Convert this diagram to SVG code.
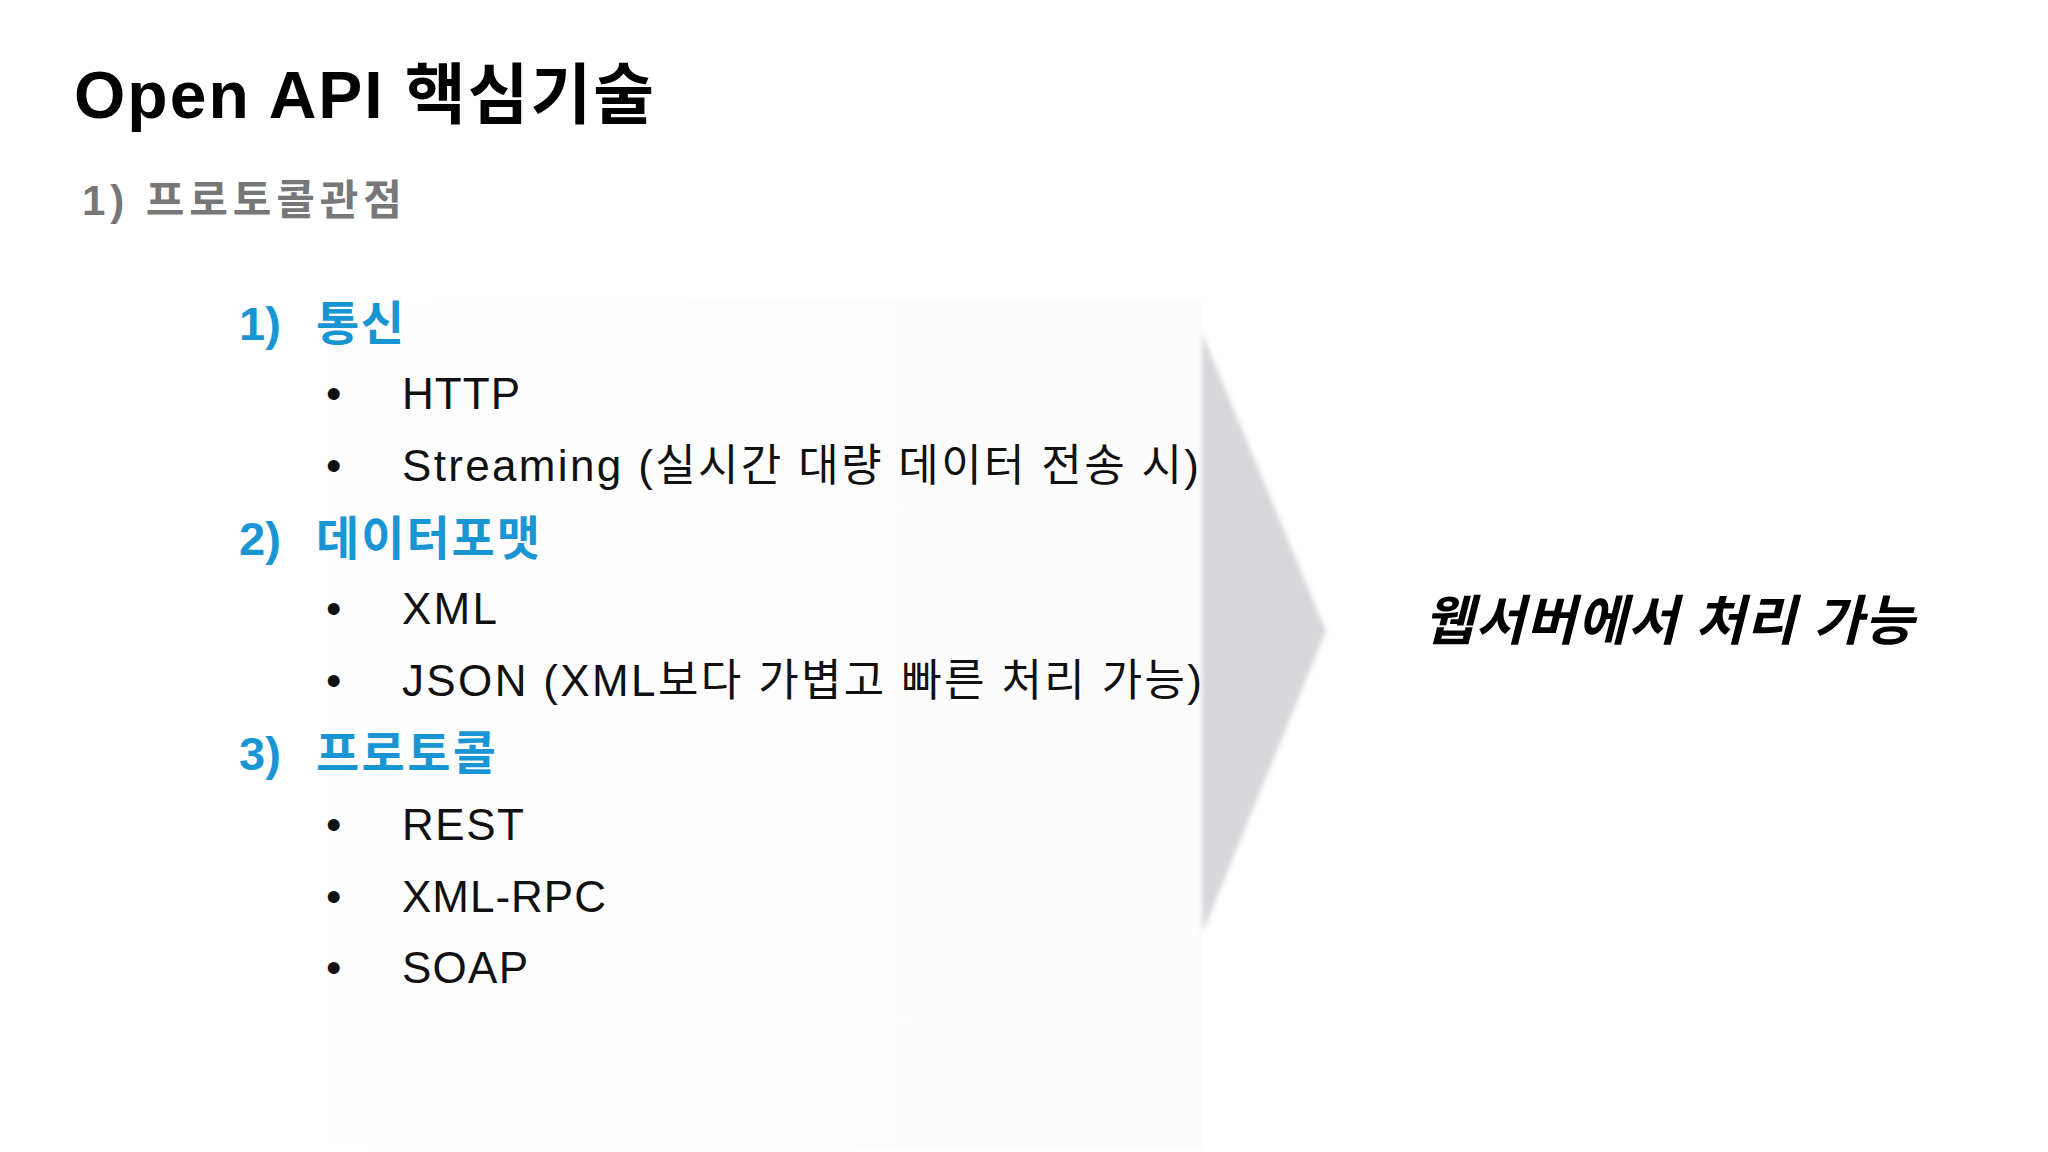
<svg xmlns="http://www.w3.org/2000/svg" width="2048" height="1152" viewBox="0 0 2048 1152">
<style>
text{font-family:"Liberation Sans","Noto Sans CJK KR",sans-serif}
.t{font-size:44px;fill:#111}
.h{font-size:47px;fill:#1a95d3;font-weight:bold}
</style>
<defs>
<filter id="b" x="-10%" y="-5%" width="120%" height="110%"><feGaussianBlur stdDeviation="2.5"/></filter>
<linearGradient id="g" x1="0" y1="0" x2="1" y2="0"><stop offset="0" stop-color="#fff"/><stop offset="1" stop-color="#f9f9fb"/></linearGradient>
</defs>
<rect width="2048" height="1152" fill="#fff"/>
<g id="title"><text x="74" y="118" font-size="66" font-weight="bold" fill="#000" textLength="580">Open API 핵심기술</text></g>
<g id="subtitle"><text x="82" y="215" font-size="42" font-weight="bold" fill="#777" textLength="320">1) 프로토콜관점</text></g>
<g id="arrow">
<polygon points="230,300 1202,300 1202,1150 300,1150" fill="url(#g)" opacity="0.5"/>
<polygon points="1202,333 1326,631 1202,934" fill="#d8d7dc" filter="url(#b)"/>
</g>
<g id="list">
<text class="h" x="239" y="340">1)</text><text class="h" x="316" y="340" textLength="88">통신</text>
<text class="t" x="326" y="409">•</text><text class="t" x="402" y="409" textLength="118">HTTP</text>
<text class="t" x="326" y="481">•</text><text class="t" x="402" y="481" textLength="797">Streaming (실시간 대량 데이터 전송 시)</text>
<text class="h" x="239" y="555">2)</text><text class="h" x="316" y="555" textLength="224">데이터포맷</text>
<text class="t" x="326" y="624">•</text><text class="t" x="402" y="624" textLength="95">XML</text>
<text class="t" x="326" y="696">•</text><text class="t" x="402" y="696" textLength="800">JSON (XML보다 가볍고 빠른 처리 가능)</text>
<text class="h" x="239" y="770">3)</text><text class="h" x="316" y="770" textLength="180">프로토콜</text>
<text class="t" x="326" y="840">•</text><text class="t" x="402" y="840" textLength="122">REST</text>
<text class="t" x="326" y="912">•</text><text class="t" x="402" y="912" textLength="204">XML-RPC</text>
<text class="t" x="326" y="983">•</text><text class="t" x="402" y="983" textLength="126">SOAP</text>
</g>
<g id="result"><text x="1424" y="640" font-size="54" font-weight="bold" font-style="italic" fill="#000" textLength="490">웹서버에서 처리 가능</text></g>
</svg>
